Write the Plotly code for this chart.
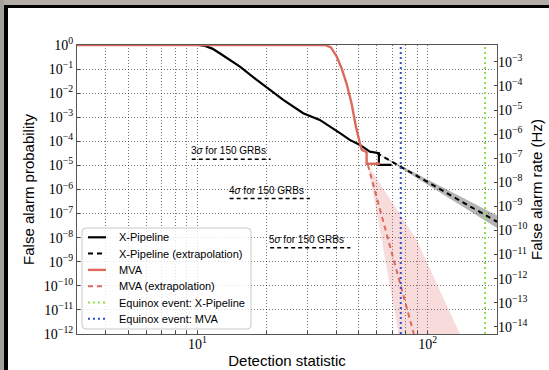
import numpy as np
import plotly.graph_objects as go

# ---------------- data ----------------
# X-Pipeline: detection statistic vs log10(false alarm probability)
xp_stat = [3, 10.1, 10.8, 11.6, 12.5, 15.3, 18.1, 20.8, 23.6, 28.8, 34.0, 41.6, 45.9, 50.8, 56.1, 61.4, 61.4, 69.7]
xp_logfap = [0, 0, -0.04, -0.15, -0.344, -0.90, -1.45, -1.88, -2.28, -2.83, -3.11, -3.66, -3.94, -4.15, -4.43, -4.49, -4.98, -4.98]

# X-Pipeline extrapolation (centre line and band edges)
xp_ext_stat = [60, 100, 200]
xp_ext_logfap = [-4.48, -5.69, -7.34]
xp_ext_upper = [-4.48, -5.57, -7.08]
xp_ext_lower = [-4.48, -5.81, -7.60]

# MVA
mva_stat = [3, 35.8, 38.0, 40.3, 42.3, 44.4, 46.7, 48.8, 50.8, 51.7, 54.3, 54.3, 62.0]
mva_logfap = [0, 0, -0.10, -0.485, -0.97, -1.59, -2.42, -3.39, -4.08, -4.35, -4.45, -4.93, -4.93]

# MVA extrapolation
mva_ext_stat = [55, 87.1]
mva_ext_logfap = [-4.98, -12.0]
mva_band_up_stat = [55, 89.5, 138]
mva_band_up_logfap = [-4.98, -8.09, -12.0]
mva_band_lo_stat = [55, 63.1, 74.8]
mva_band_lo_logfap = [-4.98, -8.09, -12.0]

# Equinox events
eq_xp_stat = 177.5
eq_mva_stat = 76.4

# Significance thresholds for 150 GRBs
sig_labels = ["3", "4", "5"]
sig_fap = [1.8e-5, 4.2e-7, 3.8e-9]
sig_x0 = [9.45, 13.8, 20.7]
sig_x1 = [20.8, 30.8, 46.2]

# axis ticks
y_tick_exp = list(range(0, -13, -1))
y2_tick_exp = list(range(-3, -15, -1))
x_major = [10, 100]
x_minor = [4, 5, 6, 7, 8, 9, 20, 30, 40, 50, 60, 70, 80, 90]

# ---------------- figure ----------------
W, H = 549, 370
L, T, R, B = 77, 45, 52, 36
pw, ph = W - L - R, H - T - B

RED = "#dc6a5c"
fig = go.Figure()

def p10(a):
    return (10.0 ** np.array(a, dtype=float)).tolist()

# grey band (X-Pipeline extrapolation)
fig.add_trace(go.Scatter(
    x=xp_ext_stat + xp_ext_stat[::-1],
    y=p10(xp_ext_upper) + p10(xp_ext_lower[::-1]),
    fill="toself", fillcolor="rgba(90,90,90,0.45)", line=dict(width=0),
    mode="lines", showlegend=False, hoverinfo="skip"))
# pink band (MVA extrapolation)
fig.add_trace(go.Scatter(
    x=mva_band_up_stat + mva_band_lo_stat[::-1],
    y=p10(mva_band_up_logfap) + p10(mva_band_lo_logfap[::-1]),
    fill="toself", fillcolor="rgba(228,120,115,0.26)", line=dict(width=0),
    mode="lines", showlegend=False, hoverinfo="skip"))

legend_traces = []
def add_main(tr):
    fig.add_trace(tr)
    legend_traces.append(tr)

add_main(go.Scatter(x=xp_stat, y=p10(xp_logfap), mode="lines",
                    line=dict(color="black", width=2.2), name="X-Pipeline"))
add_main(go.Scatter(x=xp_ext_stat, y=p10(xp_ext_logfap), mode="lines",
                    line=dict(color="black", width=2, dash="5px,4px"),
                    name="X-Pipeline (extrapolation)"))
add_main(go.Scatter(x=mva_stat, y=p10(mva_logfap), mode="lines",
                    line=dict(color=RED, width=2.4), name="MVA"))
add_main(go.Scatter(x=mva_ext_stat, y=p10(mva_ext_logfap), mode="lines",
                    line=dict(color=RED, width=2, dash="5px,4px"),
                    name="MVA (extrapolation)"))
add_main(go.Scatter(x=[eq_xp_stat, eq_xp_stat], y=[1e-12, 1], mode="lines",
                    line=dict(color="#8be04a", width=2, dash="2px,3px"),
                    name="Equinox event: X-Pipeline"))
add_main(go.Scatter(x=[eq_mva_stat, eq_mva_stat], y=[1e-12, 1], mode="lines",
                    line=dict(color="#2a4fd0", width=2, dash="2px,3px"),
                    name="Equinox event: MVA"))

# sigma threshold lines + labels
for lab, f, a, b in zip(sig_labels, sig_fap, sig_x0, sig_x1):
    fig.add_trace(go.Scatter(x=[a, b], y=[f, f], mode="lines",
                             line=dict(color="black", width=1.5, dash="4px,3px"),
                             showlegend=False, hoverinfo="skip"))
    fig.add_annotation(x=np.log10(a), y=np.log10(f), xref="x", yref="y",
                       text=lab + "<i>σ</i> for 150 GRBs", showarrow=False,
                       xanchor="left", yanchor="bottom", yshift=1, xshift=-3,
                       font=dict(family="Liberation Sans", size=10, color="black"))

# invisible trace for right axis
fig.add_trace(go.Scatter(x=[3, 200], y=[1e-14, 1e-3], yaxis="y2", mode="lines",
                         line=dict(width=0), opacity=0, showlegend=False, hoverinfo="skip"))

def sup(e):
    return "10<sup>" + ("−" if e < 0 else "") + str(abs(e)) + "</sup>"

tickfont = dict(family="Liberation Serif", size=14, color="black")
titlefont = dict(family="Liberation Sans", size=15, color="black")
gridc = "rgba(0,0,0,0.55)"
gdash = "1px,2px"

xt = sorted(x_major + x_minor)
fig.update_layout(
    width=W, height=H,
    margin=dict(l=L, r=R, t=T, b=B, autoexpand=False),
    paper_bgcolor="white", plot_bgcolor="white",
    showlegend=False,
    xaxis=dict(type="log", range=[np.log10(3), np.log10(200)],
               tickvals=xt, ticktext=[sup(int(round(np.log10(v)))) if v in x_major else "" for v in xt],
               showgrid=True, gridcolor=gridc, griddash=gdash, gridwidth=1,
               ticks="inside", ticklen=3, tickcolor="#444", ticklabelstandoff=-3,
               showline=True, linecolor="#555", linewidth=1, mirror=True,
               tickfont=tickfont, zeroline=False,
               title=dict(text="Detection statistic", font=titlefont, standoff=4)),
    yaxis=dict(type="log", range=[-12, 0],
               tickvals=p10(y_tick_exp), ticktext=[sup(e) for e in y_tick_exp],
               showgrid=True, gridcolor=gridc, griddash=gdash, gridwidth=1,
               ticks="inside", ticklen=3, tickcolor="#444",
               showline=True, linecolor="#555", linewidth=1, mirror=True,
               tickfont=tickfont, zeroline=False,
               title=dict(text="False alarm probability", font=titlefont, standoff=5)),
    yaxis2=dict(type="log", range=[-14.3, -2.3], overlaying="y", side="right",
                tickvals=p10(y2_tick_exp), ticktext=[sup(e) for e in y2_tick_exp],
                showgrid=False, ticks="inside", ticklen=3, tickcolor="#444",
                tickfont=tickfont, zeroline=False, showline=False,
                title=dict(text="False alarm rate (Hz)", font=titlefont, standoff=5)),
)

def px2paper_x(px):
    return (px - L) / pw

def px2paper_y(py):
    return 1 - (py - T) / ph

# ---- legend box (drawn manually to match the compact matplotlib legend) ----
bx0, by0, bx1, by1, rr = 82, 228, 251, 329, 4
X0, X1 = px2paper_x(bx0), px2paper_x(bx1)
Y0, Y1 = px2paper_y(by1), px2paper_y(by0)
rx, ry = rr / pw, rr / ph
path = (f"M {X0+rx},{Y1} L {X1-rx},{Y1} Q {X1},{Y1} {X1},{Y1-ry} "
        f"L {X1},{Y0+ry} Q {X1},{Y0} {X1-rx},{Y0} L {X0+rx},{Y0} "
        f"Q {X0},{Y0} {X0},{Y0+ry} L {X0},{Y1-ry} Q {X0},{Y1} {X0+rx},{Y1} Z")
fig.add_shape(type="path", path=path, xref="paper", yref="paper",
              fillcolor="rgba(255,255,255,0.82)", line=dict(color="#c8c8c8", width=1),
              layer="above")
row0, drow = 237.3, 16.3
for i, tr in enumerate(legend_traces):
    yy = px2paper_y(row0 + i * drow)
    fig.add_shape(type="line", xref="paper", yref="paper",
                  x0=px2paper_x(88), x1=px2paper_x(106), y0=yy, y1=yy,
                  line=dict(color=tr.line.color, width=tr.line.width, dash=tr.line.dash),
                  layer="above")
    fig.add_annotation(x=px2paper_x(117), y=yy, xref="paper", yref="paper",
                       text=tr.name, showarrow=False, xanchor="left", yanchor="middle",
                       font=dict(family="Liberation Sans", size=11, color="black"))

# picture frame (grey + black band on top and left)
frame = [
    (0, 0, W, 5, "#b4aca6"),
    (0, 0, 4, H, "#a2a29b"),
    (4, 5, W, 8, "black"),
    (4, 5, 8, H, "black"),
]
for x0, y0, x1, y1, c in frame:
    fig.add_shape(type="rect", xref="paper", yref="paper",
                  x0=px2paper_x(x0), x1=px2paper_x(x1),
                  y0=px2paper_y(y1), y1=px2paper_y(y0),
                  fillcolor=c, line=dict(width=0), layer="above")

fig.write_html("out.html")
